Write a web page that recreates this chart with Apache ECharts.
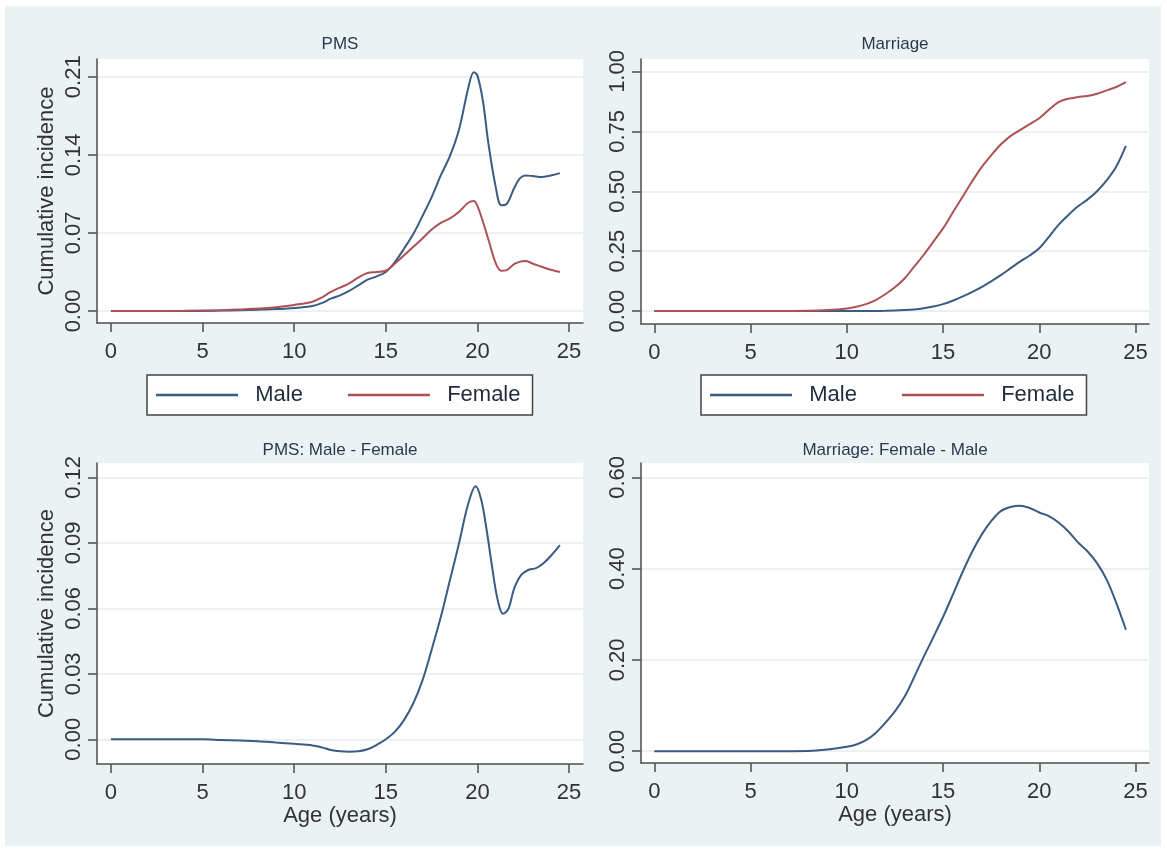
<!DOCTYPE html>
<html>
<head>
<meta charset="utf-8">
<script src="https://cdn.jsdelivr.net/npm/echarts@6/dist/echarts.min.js"></script>
<style>
  html, body { margin: 0; padding: 0; background: #ffffff; }
  #frame { position: absolute; left: 5px; top: 6px; width: 1156px; height: 840px; background: #eaf2f3; }
  #chart { position: absolute; left: 0; top: 0; width: 1167px; height: 852px; }
</style>
</head>
<body>
<div id="frame"></div>
<div id="chart"></div>
<script>
// PMS cumulative incidence by age and sex
const pmsAge    = [0, 2, 4, 6, 7, 8, 9, 10, 11, 11.5, 12, 12.5, 13, 13.5, 14, 14.5, 15, 15.5, 16, 16.5, 17, 17.5, 18, 18.5, 19, 19.5, 19.8, 20, 20.3, 20.6, 21, 21.3, 21.6, 22, 22.3, 22.6, 23, 23.5, 24, 24.5];
const pmsMale   = [0, 0, 0, 0.0003, 0.0006, 0.0011, 0.0017, 0.0026, 0.0045, 0.007, 0.011, 0.014, 0.018, 0.023, 0.028, 0.031, 0.035, 0.044, 0.056, 0.069, 0.085, 0.102, 0.1215, 0.139, 0.163, 0.200, 0.214, 0.211, 0.188, 0.150, 0.111, 0.0947, 0.096, 0.110, 0.1186, 0.1215, 0.121, 0.120, 0.1215, 0.1236];
const pmsFemale = [0, 0, 0.0002, 0.0007, 0.0012, 0.0022, 0.0033, 0.0054, 0.0083, 0.012, 0.017, 0.021, 0.0247, 0.030, 0.034, 0.035, 0.036, 0.0426, 0.050, 0.0575, 0.065, 0.073, 0.079, 0.083, 0.089, 0.097, 0.0985, 0.094, 0.080, 0.064, 0.0426, 0.036, 0.0366, 0.042, 0.044, 0.0447, 0.0426, 0.0396, 0.037, 0.035];

// Marriage cumulative incidence by age and sex
const marAge    = [0, 2, 4, 6, 8, 9, 10, 10.5, 11, 11.5, 12, 12.5, 13, 13.5, 14, 14.5, 15, 15.5, 16, 16.5, 17, 17.5, 18, 18.5, 19, 19.5, 20, 20.5, 21, 21.5, 22, 22.5, 23, 23.5, 24, 24.5];
const marMale   = [0, 0, 0, 0, 0, 0, 0, 0, 0, 0.0005, 0.001, 0.002, 0.004, 0.007, 0.012, 0.019, 0.029, 0.043, 0.06, 0.079, 0.10, 0.124, 0.15, 0.178, 0.206, 0.232, 0.262, 0.31, 0.36, 0.40, 0.436, 0.465, 0.50, 0.545, 0.603, 0.689];
const marFemale = [0, 0, 0, 0, 0.001, 0.004, 0.011, 0.018, 0.029, 0.046, 0.070, 0.099, 0.136, 0.185, 0.235, 0.29, 0.345, 0.41, 0.475, 0.54, 0.60, 0.65, 0.695, 0.73, 0.755, 0.78, 0.805, 0.84, 0.872, 0.886, 0.893, 0.898, 0.907, 0.921, 0.935, 0.955];

// Differences between the sexes
const pmsDiffAge = [0, 2, 4, 5, 6, 7, 8, 9, 10, 11, 11.5, 12, 12.5, 13, 13.5, 14, 14.5, 15, 15.5, 16, 16.5, 17, 17.5, 18, 18.5, 19, 19.5, 19.9, 20.2, 20.5, 20.8, 21.1, 21.4, 21.7, 22, 22.4, 22.8, 23.2, 23.6, 24, 24.5];
const pmsDiff    = [0, 0, 0, 0, -0.0003, -0.0006, -0.0009, -0.0015, -0.0021, -0.0028, -0.0037, -0.0049, -0.0055, -0.0057, -0.0055, -0.0046, -0.0026, 0, 0.0035, 0.0089, 0.0165, 0.027, 0.041, 0.056, 0.073, 0.090, 0.108, 0.116, 0.110, 0.096, 0.079, 0.064, 0.0575, 0.060, 0.069, 0.0754, 0.0777, 0.0784, 0.0807, 0.084, 0.089];
const marDiffAge = [0, 2, 4, 6, 8, 9, 10, 10.5, 11, 11.5, 12, 12.5, 13, 13.5, 14, 14.5, 15, 15.5, 16, 16.5, 17, 17.5, 18, 18.5, 19, 19.5, 20, 20.5, 21, 21.5, 22, 22.5, 23, 23.5, 24, 24.5];
const marDiff    = [0, 0, 0, 0, 0.0005, 0.0036, 0.0095, 0.0146, 0.024, 0.040, 0.062, 0.087, 0.119, 0.162, 0.207, 0.250, 0.294, 0.342, 0.391, 0.436, 0.474, 0.504, 0.526, 0.535, 0.538, 0.533, 0.523, 0.515, 0.501, 0.482, 0.458, 0.438, 0.412, 0.376, 0.325, 0.266];

// Tick labels
const ageTicks     = [0, 5, 10, 15, 20, 25];
const pmsTicks     = [0, 0.07, 0.14, 0.21];
const marTicks     = [0, 0.25, 0.50, 0.75, 1.00];
const pmsDiffTicks = [0, 0.03, 0.06, 0.09, 0.12];
const marDiffTicks = [0, 0.20, 0.40, 0.60];

const FONT = 'Liberation Sans, Arial, sans-serif';
const MALE = '#3a5b82';
const FEMALE = '#ad5157';
const AXIS = '#4d4d4d';
const GRIDLINE = '#e4ecef';

const panels = [
  { rect: { left: 97,  top: 59,  width: 486, height: 264 }, x: [-0.76, 25.76], y: [-0.0108, 0.2259], yTicks: pmsTicks,     title: 'PMS',                     cx: 340, ty: 36,  yName: true,  xName: false },
  { rect: { left: 641, top: 59,  width: 508, height: 265 }, x: [-0.69, 25.70], y: [-0.054, 1.052],   yTicks: marTicks,     title: 'Marriage',                cx: 895, ty: 36,  yName: false, xName: false },
  { rect: { left: 97,  top: 463, width: 486, height: 301 }, x: [-0.76, 25.76], y: [-0.01133, 0.1266], yTicks: pmsDiffTicks, title: 'PMS: Male - Female',      cx: 340, ty: 442, yName: true,  xName: true },
  { rect: { left: 641, top: 463, width: 508, height: 300 }, x: [-0.69, 25.70], y: [-0.026, 0.6315],  yTicks: marDiffTicks, title: 'Marriage: Female - Male', cx: 895, ty: 442, yName: false, xName: true }
];

const pairs = (xs, ys) => xs.map((x, i) => [x, ys[i]]);

const grids = panels.map(p => Object.assign({
  show: true, backgroundColor: '#ffffff', borderWidth: 0,
  containLabel: false, outerBoundsMode: 'none'
}, p.rect));

const xAxes = panels.map((p, i) => ({
  type: 'value', gridIndex: i, min: p.x[0], max: p.x[1],
  axisLine: { show: true, onZero: false, lineStyle: { color: AXIS, width: 1.5 } },
  axisTick: { show: true, customValues: ageTicks, length: 9, lineStyle: { color: AXIS, width: 1.5 } },
  axisLabel: { customValues: ageTicks, margin: 18, fontSize: 22, color: '#333', fontFamily: FONT },
  splitLine: { show: false },
  name: p.xName ? 'Age (years)' : '', nameLocation: 'middle', nameGap: 39,
  nameTextStyle: { fontSize: 22, color: '#333', fontFamily: FONT }
}));

const yAxes = panels.map((p, i) => ({
  type: 'value', gridIndex: i, min: p.y[0], max: p.y[1],
  axisLine: { show: true, onZero: false, lineStyle: { color: AXIS, width: 1.5 } },
  axisTick: { show: true, customValues: p.yTicks, length: 9, lineStyle: { color: AXIS, width: 1.5 } },
  axisLabel: { customValues: p.yTicks, rotate: 90, margin: 12, fontSize: 22, color: '#333', fontFamily: FONT,
               formatter: v => v.toFixed(2) },
  splitLine: { show: true, lineStyle: { color: GRIDLINE, width: 1.5 } },
  name: p.yName ? 'Cumulative incidence' : '', nameLocation: 'middle', nameGap: 39,
  nameTextStyle: { fontSize: 22, color: '#333', fontFamily: FONT }
}));

const titles = panels.map(p => ({
  text: p.title, left: p.cx, top: p.ty, textAlign: 'center', padding: 0,
  textStyle: { fontSize: 17, fontWeight: 'normal', color: '#2b3950', fontFamily: FONT }
}));

function lineSeries(name, idx, data, color) {
  return {
    type: 'line', name, xAxisIndex: idx, yAxisIndex: idx, data,
    showSymbol: false, symbol: 'none', smooth: 0.35,
    itemStyle: { color }, lineStyle: { color, width: 2 }
  };
}

const series = [
  lineSeries('Male', 0, pairs(pmsAge, pmsMale), MALE),
  lineSeries('Female', 0, pairs(pmsAge, pmsFemale), FEMALE),
  lineSeries('Male', 1, pairs(marAge, marMale), MALE),
  lineSeries('Female', 1, pairs(marAge, marFemale), FEMALE),
  lineSeries('PMS: Male - Female', 2, pairs(pmsDiffAge, pmsDiff), MALE),
  lineSeries('Marriage: Female - Male', 3, pairs(marDiffAge, marDiff), MALE)
];

function legendAt(left) {
  return {
    data: ['Male', 'Female'], left, top: 375, orient: 'horizontal',
    icon: 'rect', itemWidth: 82, itemHeight: 2.5, itemGap: 45,
    padding: [9, 12, 9, 9],
    backgroundColor: '#ffffff', borderColor: '#444', borderWidth: 1.5, borderRadius: 0,
    selectedMode: false,
    formatter: name => '  ' + name,
    textStyle: { fontSize: 22, lineHeight: 22, color: '#1f2a3a', fontFamily: FONT }
  };
}

const chart = echarts.init(document.getElementById('chart'), null, { renderer: 'canvas' });
chart.setOption({
  animation: false,
  textStyle: { fontFamily: FONT },
  title: titles,
  grid: grids,
  xAxis: xAxes,
  yAxis: yAxes,
  legend: [legendAt(147), legendAt(701)],
  series
});
</script>
</body>
</html>
